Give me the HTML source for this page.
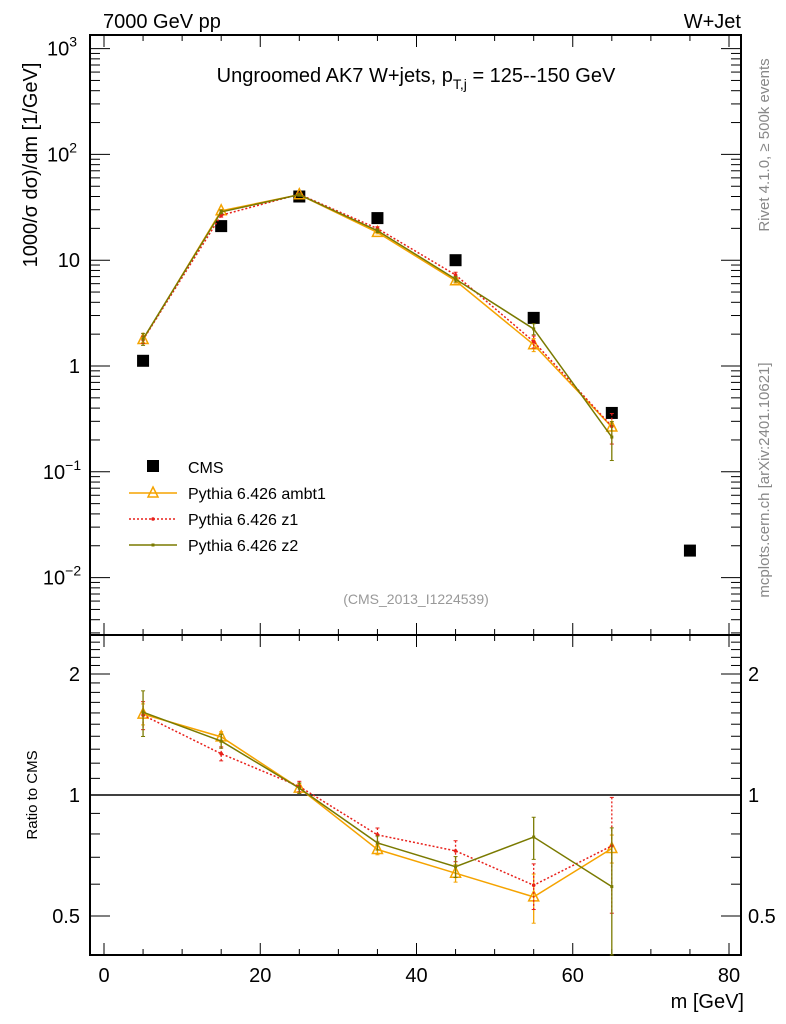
<!DOCTYPE html>
<html><head><meta charset="utf-8"><style>
body{margin:0;background:#fff;}
svg{display:block;font-family:"Liberation Sans",sans-serif;}
</style></head><body>
<svg id="c" width="786" height="1024" viewBox="0 0 786 1024">
<g id="axes"></g><g id="marks"></g>
<text x="103" y="28" font-size="20">7000 GeV pp</text>
<text x="741" y="28" font-size="20" text-anchor="end">W+Jet</text>
<text x="416" y="82" font-size="20" text-anchor="middle">Ungroomed AK7 W+jets, p<tspan font-size="14" dy="7">T,j</tspan><tspan dy="-7"> = 125--150 GeV</tspan></text>
<text x="416" y="604" font-size="14" fill="#999" text-anchor="middle">(CMS_2013_I1224539)</text>
<text transform="translate(37,165) rotate(-90)" font-size="20" text-anchor="middle">1000/σ  dσ)/dm [1/GeV]</text>
<text transform="translate(37,795) rotate(-90)" font-size="15" text-anchor="middle">Ratio to CMS</text>
<text x="744" y="1008" font-size="20" text-anchor="end">m [GeV]</text>
<text transform="translate(769,145) rotate(-90)" font-size="15" fill="#888" text-anchor="middle">Rivet 4.1.0, ≥ 500k events</text>
<text transform="translate(769,480) rotate(-90)" font-size="15" fill="#888" text-anchor="middle">mcplots.cern.ch [arXiv:2401.10621]</text>
<g>
<rect x="147" y="460" width="12" height="12" fill="#000"/>
<text x="188" y="473" font-size="16">CMS</text>
<line x1="129" y1="493" x2="177" y2="493" stroke="#f5a300" stroke-width="1.5"/>
<path d="M153,487 L158,497 L148,497 Z" fill="none" stroke="#f5a300" stroke-width="1.5"/>
<text x="188" y="499" font-size="16">Pythia 6.426 ambt1</text>
<line x1="129" y1="519" x2="177" y2="519" stroke="#e8201a" stroke-width="1.5" stroke-dasharray="2,2"/>
<circle cx="153" cy="519" r="1.8" fill="#e8201a"/>
<text x="188" y="525" font-size="16">Pythia 6.426 z1</text>
<line x1="129" y1="545" x2="177" y2="545" stroke="#7a7a00" stroke-width="1.5"/>
<rect x="151.5" y="543.5" width="3" height="3" fill="#7a7a00"/>
<text x="188" y="551" font-size="16">Pythia 6.426 z2</text>
</g>
</svg>
<script>
const xCenters=[5,15,25,35,45,55,65,75];
const cmsVals=[1.12,21,40,25,10,2.85,0.36,0.018];
const ambt1Vals=[1.78,29.3,41.6,18.3,6.39,1.59,0.265];
const z1Vals=[1.77,26.6,42.0,19.9,7.26,1.70,0.269];
const z2Vals=[1.80,28.6,41.6,19.0,6.63,2.24,0.213];
const ambt1Err=[0.06,0.03,0.03,0.03,0.05,0.14,0.08];
const z1Err=[0.08,0.04,0.03,0.04,0.06,0.13,0.32];
const z2Err=[0.13,0.04,0.03,0.04,0.06,0.12,0.4];
const mainTicks=[3,2,1,0,-1,-2];
const mainTickLabels=["10","10","10","1","10","10"];
const mainTickExp=["3","2","","","−1","−2"];
const ratioTicks=[2,1,0.5];
const xTicks=[0,20,40,60,80];

const NS="http://www.w3.org/2000/svg";
const L=90,R=741,T=35,MB=635,RB=955;
const X=v=>104+(v)*(729-104)/80;
const Y=v=>366-Math.log10(v)*105.8;
const YR=v=>795-Math.log10(v)*402;
const ax=document.getElementById('axes'),mk=document.getElementById('marks');
function el(t,a,p){const e=document.createElementNS(NS,t);for(const k in a)e.setAttribute(k,a[k]);(p||mk).appendChild(e);return e;}

let f1=el('rect',{x:L,y:T,width:R-L,height:MB-T,fill:'none',stroke:'#000','stroke-width':2},ax);


let f2=el('rect',{x:L,y:MB,width:R-L,height:RB-MB,fill:'none',stroke:'#000','stroke-width':2},ax);


for(let v=0;v<=80;v+=5){const big=v%20===0;const h=big?12:6;
 for(const [y0,d] of [[T,1],[MB,-1],[MB,1],[RB,-1]]){el('line',{x1:X(v),x2:X(v),y1:y0,y2:y0+d*h,stroke:'#000','stroke-width':1},ax);}}
xTicks.forEach(v=>{const t=el('text',{x:X(v),y:982,'font-size':20,'text-anchor':'middle'},ax);t.textContent=v;
 
 });
for(let d=-3;d<=3;d++){for(let m=1;m<10;m++){const v=m*Math.pow(10,d);const y=Y(v);if(y<T||y>MB)continue;const h=m===1?20:10;
 el('line',{x1:L,x2:L+h,y1:y,y2:y,stroke:'#000'},ax);el('line',{x1:R,x2:R-h,y1:y,y2:y,stroke:'#000'},ax);}}
mainTicks.forEach((d,i)=>{const y=Y(Math.pow(10,d));const t=el('text',{x:mainTickExp[i]?62:80,y:y+7,'font-size':20,'text-anchor':mainTickExp[i]?'middle':'end'},ax);
 t.textContent=mainTickLabels[i];
 if(mainTickExp[i]){const s=el('tspan',{dy:-9,'font-size':14},t);s.textContent=mainTickExp[i];}
 
 });
for(let v=0.4;v<=2.5001;v+=0.1){const y=YR(v);if(y<MB||y>RB)continue;const big=[0.5,1,2].some(b=>Math.abs(b-v)<1e-6);const h=big?20:10;
 el('line',{x1:L,x2:L+h,y1:y,y2:y,stroke:'#000'},ax);el('line',{x1:R,x2:R-h,y1:y,y2:y,stroke:'#000'},ax);}
ratioTicks.forEach(v=>{const y=YR(v)+7;
 const a=el('text',{x:80,y:y,'font-size':20,'text-anchor':'end'},ax);a.textContent=v;
 
 
 const b=el('text',{x:748,y:y,'font-size':20},ax);b.textContent=v;
 
 });
let one=el('line',{x1:L,x2:R,y1:YR(1),y2:YR(1),stroke:'#000','stroke-width':1.5},ax);



const clampR=v=>Math.min(RB,Math.max(MB,v));
function series(vals,errs,col,dash,mark,name){
 const pm=vals.map((v,i)=>[X(xCenters[i]),Y(v)]);
 const pr=vals.map((v,i)=>[X(xCenters[i]),clampR(YR(v/cmsVals[i]))]);
 [[pm,'main'],[pr,'ratio']].forEach(([pts,kind])=>{
  const p=el('polyline',{points:pts.map(q=>q.join(',')).join(' '),fill:'none',stroke:col,'stroke-width':1.5,'stroke-dasharray':dash});
  
  
  pts.forEach((q,i)=>{const v=kind==='main'?vals[i]:vals[i]/cmsVals[i];const f=kind==='main'?Y:YR;
   const y1=kind==='main'?f(v*(1+errs[i])):clampR(f(v*(1+errs[i])));const y2=kind==='main'?f(v*(1-errs[i])):clampR(f(Math.max(v*(1-errs[i]),0.01)));
   const e=el('line',{x1:q[0],x2:q[0],y1:y1,y2:y2,stroke:col,'stroke-width':1.3,'stroke-dasharray':dash});
   
   
   el('line',{x1:q[0]-2,x2:q[0]+2,y1:y1,y2:y1,stroke:col});el('line',{x1:q[0]-2,x2:q[0]+2,y1:y2,y2:y2,stroke:col});
   let m;
   if(mark==='tri')m=el('path',{d:`M${q[0]},${q[1]-6} L${q[0]+5},${q[1]+4} L${q[0]-5},${q[1]+4} Z`,fill:'none',stroke:col,'stroke-width':1.5});
   else if(mark==='dot')m=el('circle',{cx:q[0],cy:q[1],r:1.8,fill:col});
   else m=el('rect',{x:q[0]-1.5,y:q[1]-1.5,width:3,height:3,fill:col});
   
   
  });
 });
}
cmsVals.forEach((v,i)=>{const r=el('rect',{x:X(xCenters[i])-6,y:Y(v)-6,width:12,height:12,fill:'#000'});
 
 });
series(ambt1Vals,ambt1Err,'#f5a300','none','tri','ambt1');
series(z1Vals,z1Err,'#e8201a','2,2','dot','z1');
series(z2Vals,z2Err,'#7a7a00','none','sq','z2');
</script>
</body></html>
